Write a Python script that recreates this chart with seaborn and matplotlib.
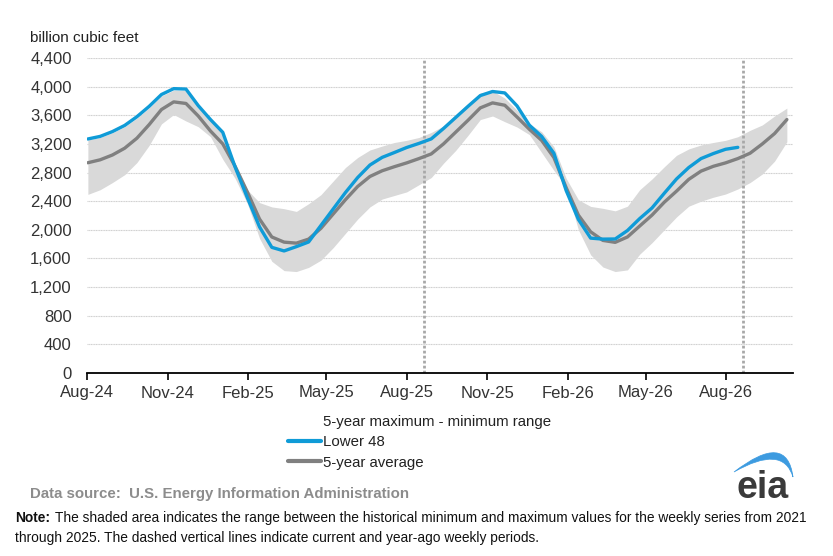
import numpy as np
import pandas as pd
import matplotlib
matplotlib.use("Agg")
import matplotlib.pyplot as plt
import matplotlib.dates as mdates
from matplotlib.patches import Patch, PathPatch
from matplotlib.path import Path
from matplotlib.lines import Line2D
import seaborn as sns

# ---------------- data (billion cubic feet) ----------------
start_date = "2024-08-02"
n_weeks_step = 14  # biweekly readings

lower48 = [3269, 3305, 3372, 3458, 3580, 3725, 3890, 3972, 3966, 3735,
           3540, 3362, 2880, 2450, 2040, 1755, 1705, 1765, 1830, 2060,
           2290, 2520, 2730, 2905, 3012, 3080, 3150, 3207, 3270, 3415,
           3570, 3725, 3875, 3932, 3912, 3730, 3462, 3305, 3070, 2550,
           2145, 1884, 1870, 1872, 1990, 2157, 2305, 2510, 2710, 2870,
           2995, 3065, 3125, 3152]

avg5 = [2937, 2978, 3045, 3140, 3280, 3470, 3680, 3787, 3765, 3590,
        3380, 3200, 2890, 2530, 2150, 1900, 1828, 1814, 1870, 2020,
        2220, 2420, 2605, 2745, 2825, 2882, 2935, 2995, 3060, 3200,
        3365, 3530, 3703, 3773, 3740, 3575, 3405, 3250, 3010, 2590,
        2205, 1972, 1852, 1825, 1900, 2053, 2205, 2385, 2540, 2705,
        2820, 2887, 2935, 2995, 3070, 3200, 3345, 3540]

band_max = [3255, 3290, 3355, 3440, 3560, 3705, 3870, 3950, 3945, 3740,
            3560, 3370, 2920, 2560, 2380, 2320, 2295, 2257, 2365, 2490,
            2680, 2870, 3010, 3115, 3170, 3220, 3250, 3290, 3360, 3450,
            3610, 3765, 3913, 3940, 3840, 3670, 3480, 3370, 3160, 2720,
            2420, 2327, 2300, 2265, 2330, 2560, 2710, 2880, 3040, 3130,
            3185, 3220, 3250, 3300, 3390, 3465, 3590, 3700]

band_min = [2495, 2560, 2660, 2770, 2940, 3180, 3480, 3610, 3520, 3440,
            3300, 2985, 2720, 2370, 1880, 1560, 1430, 1417, 1475, 1575,
            1750, 1950, 2150, 2320, 2430, 2480, 2530, 2630, 2730, 2930,
            3110, 3320, 3540, 3590, 3510, 3435, 3330, 3080, 2830, 2600,
            2000, 1650, 1480, 1417, 1440, 1660, 1820, 2000, 2180, 2330,
            2400, 2455, 2500, 2570, 2660, 2780, 2960, 3230]

current_periods = ["2025-08-21", "2026-08-20"]
y_ticks = [0, 400, 800, 1200, 1600, 2000, 2400, 2800, 3200, 3600, 4000, 4400]
x_range = ["2024-08-01", "2026-10-16"]

legend_labels = ["5-year maximum - minimum range", "Lower 48", "5-year average"]
unit_label = "billion cubic feet"
source_text = "Data source:  U.S. Energy Information Administration"
note_line1 = ("The shaded area indicates the range between the historical minimum "
              "and maximum values for the weekly series from 2021")
note_line2 = ("through 2025. The dashed vertical lines indicate current and "
              "year-ago weekly periods.")

# ---------------- build frames ----------------
dates_all = pd.date_range(start_date, periods=len(avg5), freq=f"{n_weeks_step}D")
df_avg = pd.DataFrame({"date": dates_all, "value": avg5})
df_l48 = pd.DataFrame({"date": dates_all[:len(lower48)], "value": lower48})

# ---------------- figure ----------------
sns.set_theme(style="white")
plt.rcParams["font.family"] = ["Liberation Sans", "DejaVu Sans"]

W, H = 833, 556
fig = plt.figure(figsize=(W / 100, H / 100), dpi=100)
fig.patch.set_facecolor("white")
ax = fig.add_axes([87 / W, 1 - 373 / H, (793 - 87) / W, (373 - 58) / H])

band_color = "#D9D9D9"
blue = "#0F9BD7"
gray = "#808080"

ax.fill_between(dates_all, band_min, band_max, color=band_color, lw=0, zorder=1)
sns.lineplot(data=df_avg, x="date", y="value", color=gray, lw=2.4, ax=ax, zorder=3)
sns.lineplot(data=df_l48, x="date", y="value", color=blue, lw=2.4, ax=ax, zorder=4)

for d in current_periods:
    ax.axvline(pd.Timestamp(d), color="#A8A8A8", lw=2.0, ls=(0, (1, 0.8)), zorder=2)

ax.set_ylim(0, 4400)
ax.set_xlim(pd.Timestamp(x_range[0]), pd.Timestamp(x_range[1]))
ax.set_yticks(y_ticks)
ax.set_yticklabels([f"{v:,}" for v in y_ticks])
ax.yaxis.grid(True, color="#CFCFCF", lw=0.8, ls=(0, (1, 0.5)), zorder=0)
ax.xaxis.grid(False)
ax.set_axisbelow(True)

ax.xaxis.set_major_locator(mdates.MonthLocator(bymonth=[2, 5, 8, 11]))
ax.xaxis.set_major_formatter(mdates.DateFormatter("%b-%y"))

for s in ["top", "right", "left"]:
    ax.spines[s].set_visible(False)
ax.spines["bottom"].set_color("black")
ax.spines["bottom"].set_linewidth(1.3)
ax.set_xlabel("")
ax.set_ylabel("")
ax.tick_params(axis="y", length=0, pad=11, labelsize=12, labelcolor="#333333")
ax.tick_params(axis="x", direction="out", length=5, width=1.2, color="black",
               pad=4, labelsize=12, labelcolor="#333333", bottom=True)

fig.text(30 / W, 1 - 38 / H, unit_label, fontsize=11, color="#222222",
         va="center", ha="left")

# legend
handles = [
    Patch(facecolor="white", edgecolor="none"),
    Line2D([], [], color=blue, lw=3),
    Line2D([], [], color=gray, lw=3),
]
leg = fig.legend(handles, legend_labels, loc="upper left",
                 bbox_to_anchor=(288 / W, 1 - 415 / H), frameon=False,
                 fontsize=10.8, handlelength=2.2, handletextpad=0.15,
                 labelspacing=0.42, borderaxespad=0, borderpad=0)
for t in leg.get_texts():
    t.set_color("#222222")

fig.text(30 / W, 1 - 494 / H, source_text,
         fontsize=10.8, color="#8C8C8C", fontweight="bold", va="center", ha="left")

fig.text(15 / W, 1 - 518 / H, "Note:", fontsize=9.9, fontweight="bold",
         color="#111111", va="center", ha="left")
fig.text(55 / W, 1 - 518 / H, note_line1,
         fontsize=9.9, color="#111111", va="center", ha="left")
fig.text(15 / W, 1 - 538 / H, note_line2,
         fontsize=9.9, color="#111111", va="center", ha="left")

# eia logo (pixel coordinates inside a small axes)
logo_ax = fig.add_axes([725 / W, 1 - 505 / H, 80 / W, 60 / H])
logo_ax.set_xlim(725, 805)
logo_ax.set_ylim(505, 445)
logo_ax.axis("off")
swoosh = Path(
    [(734, 472), (787, 431), (793, 477), (783, 444), (734, 472), (734, 472)],
    [Path.MOVETO, Path.CURVE3, Path.CURVE3, Path.CURVE3, Path.CURVE3, Path.CLOSEPOLY],
)
logo_ax.add_patch(PathPatch(swoosh, facecolor="#3D9BE0", edgecolor="#3D9BE0", lw=0.5))
logo_ax.text(763, 498, "eia", fontsize=27, fontweight="bold", color="#3A3A3A",
             ha="center", va="baseline")

fig.savefig("out.png", dpi=100, facecolor="white")
